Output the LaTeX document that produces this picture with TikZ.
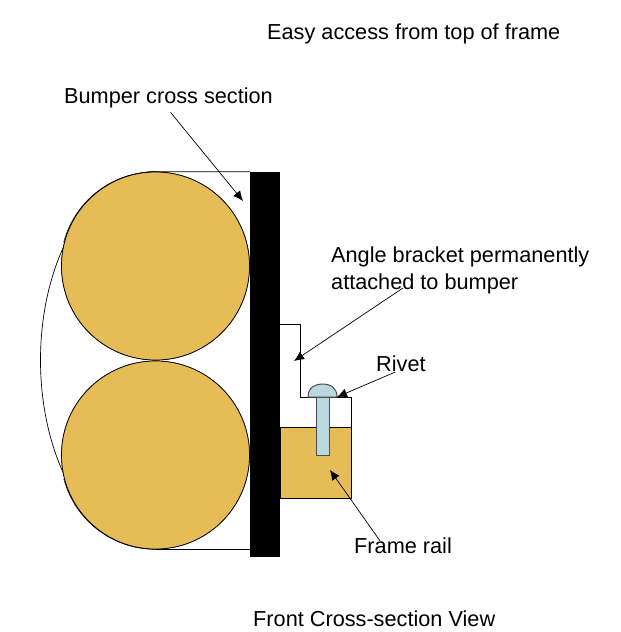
\documentclass[tikz,border=0pt]{standalone}
\usepackage{fontspec}
\setmainfont{Liberation Sans}
\usetikzlibrary{arrows.meta}
\definecolor{brass}{HTML}{E6BC57}
\definecolor{rivetblue}{HTML}{B9D9DF}
\tikzset{
  label/.style={font=\fontsize{21.7}{27}\selectfont,inner sep=0pt,anchor=west,align=left},
  ball/.style={circle,draw,fill=brass,minimum size=188pt,inner sep=0pt,line width=.7pt},
  pointer/.style={-{Latex[length=10pt,width=9pt]},line width=.7pt},
  rivetpart/.style={draw=black!70,fill=rivetblue,line width=1pt}
}
\begin{document}
\begin{tikzpicture}[x=1pt,y=-1pt]
\useasboundingbox (0,0) rectangle (621,632);
\node[label] (toplabel) at (267,34) {Easy access from top of frame};
\node[label] (bumperlabel) at (64,98) {Bumper cross section};
\node[label] (anglelabel) at (331,270) {Angle bracket permanently\\attached to bumper};
\node[label] (rivetlabel) at (376,364) {Rivet};
\node[label] (framelabel) at (354,546) {Frame rail};
\node[label] (viewlabel) at (253,619) {Front Cross-section View};
% outline behind the balls
\node[ball] (topball) at (155.5,266) {};
\node[ball] (lowball) at (155.5,455) {};
\draw[line width=.7pt] (topball.north) arc[start angle=270,end angle=90,x radius=115,y radius=188.5];
\node[ball] at (topball) {};
\node[ball] at (lowball) {};
\draw[line width=.5pt] (topball.north) arc[start angle=270,end angle=195,radius=95];
\draw[line width=.5pt] (lowball.south) arc[start angle=90,end angle=165,radius=95];
\node[fill=black,minimum width=30pt,minimum height=385pt,inner sep=0pt] (bar) at (265,364.5) {};
\draw[line width=.7pt] (topball.north) -- (bar.north west);
\draw[line width=.7pt] (lowball.south) -- (lowball.south -| bar.west);
% frame rail and bracket
\draw[fill=brass,line width=1pt] (280,427) rectangle (351,498);
\draw[line width=1pt] (280,324) -- (300,324) -- (300,397) -- (351,397) -- (351,427);
% rivet
\draw[rivetpart] (316,397) rectangle (329,455);
\draw[rivetpart] (308,397) .. controls (308,387) and (316,384) .. (322,384) .. controls (331,384) and (337,388) .. (337,397) -- cycle;
% pointers
\coordinate (bumpertip) at (243,201);
\coordinate (angletip) at (294,361);
\coordinate (angleend) at (403,288);
\coordinate (rivettip) at (337,397);
\coordinate (frametip) at (330,470);
\draw[pointer] ([xshift=2pt,yshift=-4pt]bumperlabel.south) -- (bumpertip);
\draw[pointer] (angleend) -- (angletip);
\draw[pointer] ([xshift=19pt]rivetlabel.south west) -- (rivettip);
\draw[pointer] ([xshift=26pt,yshift=-3pt]framelabel.north west) -- (frametip);
\end{tikzpicture}
\end{document}
